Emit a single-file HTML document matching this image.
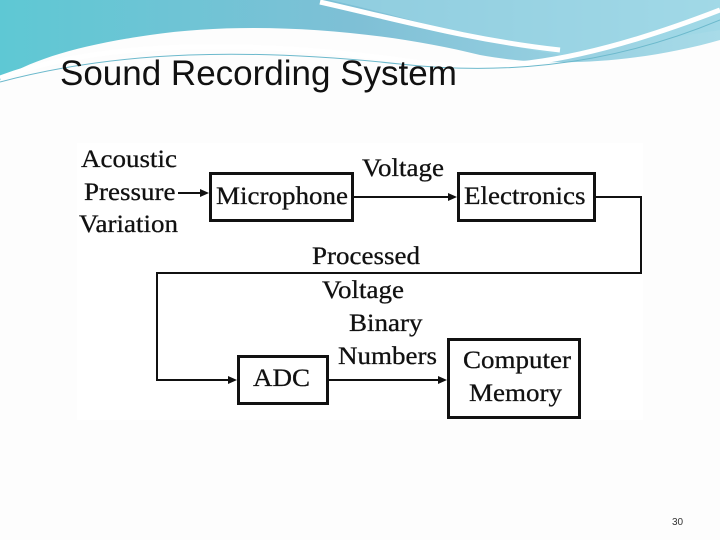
<!DOCTYPE html>
<html><head><style>
body{margin:0;width:720px;height:540px;overflow:hidden;background:#fdfdfd;position:relative;font-family:"Liberation Serif",serif}
.t{position:absolute;font-size:25px;color:#111;white-space:nowrap;line-height:1;transform:scaleX(1.08);transform-origin:0 0;-webkit-text-stroke:0.3px #111}
.b{position:absolute;border:3px solid #111;box-sizing:border-box;background:#fff}
</style></head><body>
<svg width="720" height="110" style="position:absolute;left:0;top:0">
<defs><linearGradient id="g" x1="0" x2="1"><stop offset="0" stop-color="#5ec8d4"/><stop offset="0.5" stop-color="#7fc0d6"/><stop offset="1" stop-color="#a8dbe8"/></linearGradient></defs>
<path d="M0 0H720V40C650 60 560 70 480 55C380 30 250 20 150 35C80 45 30 60 0 80Z" fill="url(#g)"/>
<path d="M330 0C420 20 470 40 560 55L720 30V0Z" fill="#9dd7e6" opacity="0.6"/>
<path d="M320 2C400 20 470 40 560 50" stroke="#fff" stroke-width="5" fill="none"/>
<path d="M0 78C100 40 250 40 400 60C480 72 560 72 720 10" stroke="#fff" stroke-width="5" fill="none"/>
<path d="M0 82C120 50 250 48 400 64C490 74 600 70 720 20" stroke="#6cb9cc" stroke-width="1" fill="none"/>
</svg>
<div style="position:absolute;left:60px;top:54px;font-family:'Liberation Sans',sans-serif;font-size:35px;color:#111">Sound Recording System</div>
<div style="position:absolute;left:77px;top:143px;width:566px;height:277px;background:#fff"></div>
<svg width="720" height="540" style="position:absolute;left:0;top:0">
<g stroke="#111" stroke-width="2" fill="none">
<path d="M178 193H203"/><path d="M353 197H450"/><path d="M595 197H641V273H157V380H230"/><path d="M328 380H441"/>
</g>
<g fill="#111">
<path d="M209 193l-9-4v8z"/><path d="M457 197l-9-4v8z"/><path d="M237 380l-9-4v8z"/><path d="M447 380l-9-4v8z"/>
</g>
</svg>
<div class="b" style="left:209px;top:172px;width:145px;height:50px"></div>
<div class="b" style="left:457px;top:172px;width:139px;height:50px"></div>
<div class="b" style="left:237px;top:355px;width:92px;height:50px"></div>
<div class="b" style="left:447px;top:338px;width:134px;height:81px"></div>
<div class="t" style="left:216px;top:184px">Microphone</div>
<div class="t" style="left:464px;top:184px">Electronics</div>
<div class="t" style="left:253px;top:366px">ADC</div>
<div class="t" style="left:463px;top:348px">Computer</div>
<div class="t" style="left:469px;top:381px">Memory</div>
<div class="t" style="left:81px;top:147px">Acoustic</div>
<div class="t" style="left:84px;top:180px">Pressure</div>
<div class="t" style="left:79px;top:212px">Variation</div>
<div class="t" style="left:362px;top:156px">Voltage</div>
<div class="t" style="left:312px;top:244px">Processed</div>
<div class="t" style="left:322px;top:278px">Voltage</div>
<div class="t" style="left:349px;top:311px">Binary</div>
<div class="t" style="left:338px;top:344px">Numbers</div>
<div style="position:absolute;left:672px;top:517px;font-size:10px;color:#333;font-family:'Liberation Sans',sans-serif">30</div>
</body></html>
